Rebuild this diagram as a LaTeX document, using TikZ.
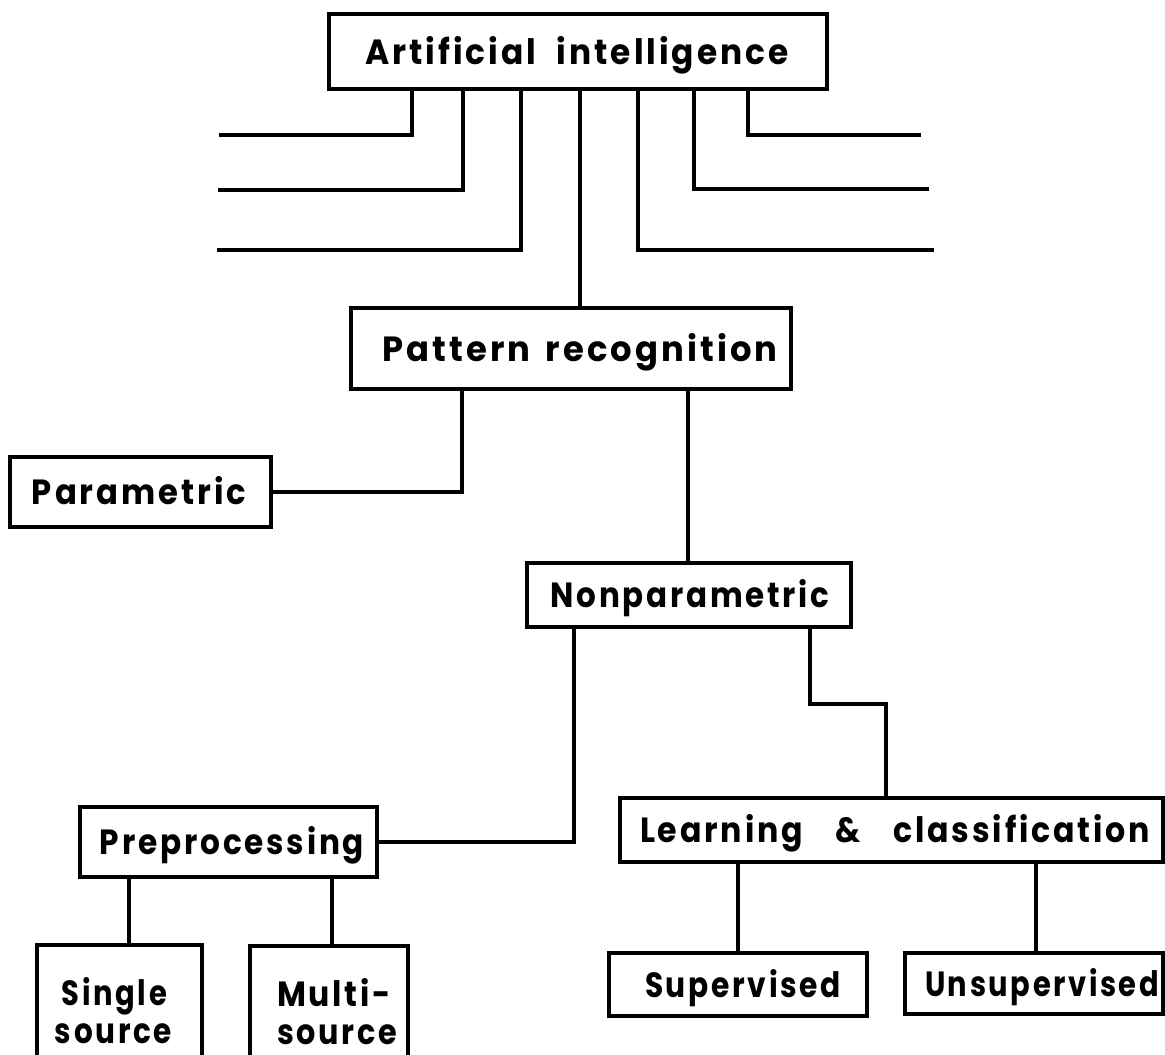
\documentclass[tikz,border=0pt]{standalone}
\usepackage{graphicx}
\usepackage{fontspec}
\setmainfont{Poppins}
\newcommand{\fitw}[2]{\resizebox{#1}{\height}{#2}}
\newcommand{\wsp}{\hspace{16pt}}
\newcommand{\wwsp}{\hspace{36pt}}
\begin{document}
\begin{tikzpicture}[x=1pt,y=-1pt,
  box/.style={draw,line width=3.6pt,inner sep=0pt,align=center,
    font=\fontsize{35}{38}\selectfont\bfseries\addfontfeature{LetterSpace=9}},
  one/.style={text height=25pt,text depth=0pt},
  link/.style={line width=3.2pt}]
\useasboundingbox (0,0) rectangle (1165,1055);
\fill[white] (0,0) rectangle (1165,1055);

\node[box,one,minimum width=498pt,minimum height=75pt] (ai) at (578,51.5)
  {\hspace*{-2pt}\fitw{423pt}{Artificial\hspace{22pt}intelligence}};
\node[box,one,minimum width=440pt,minimum height=81pt] (pr) at (571,348.5)
  {\hspace*{18pt}\fitw{395pt}{Pattern\wsp recognition}};
\node[box,one,minimum width=261pt,minimum height=70pt] (par) at (140.5,492)
  {\hspace*{-3pt}\fitw{214pt}{Parametric}};
\node[box,one,minimum width=324pt,minimum height=64pt] (np) at (689,595)
  {\hspace*{2pt}\fitw{279pt}{Nonparametric}};
\node[box,one,minimum width=297pt,minimum height=70pt] (pre) at (228.5,842)
  {\hspace*{7pt}\fitw{264pt}{Preprocessing}};
\node[box,one,minimum width=543pt,minimum height=64pt] (lc) at (891.5,830)
  {\hspace*{7pt}\fitw{510pt}{Learning\wwsp\&\wwsp classification}};
\node[box,minimum width=165pt,minimum height=132pt] (ss) at (119.5,1011)
  {\hspace*{-10pt}\fitw{105pt}{Single}\\\hspace*{-12pt}\fitw{117pt}{source}};
\node[box,minimum width=158pt,minimum height=132pt] (ms) at (329,1012)
  {\hspace*{10pt}\fitw{114pt}{Multi-}\\\hspace*{16pt}\fitw{120pt}{source}};
\node[box,one,minimum width=258pt,minimum height=63pt] (sup) at (738,984.5)
  {\hspace*{10pt}\fitw{196pt}{Supervised}};
\node[box,one,minimum width=258pt,minimum height=61pt] (uns) at (1034,983.5)
  {\hspace*{16pt}\fitw{234pt}{Unsupervised}};

\coordinate (l1) at (219,135);
\coordinate (l2) at (218,190);
\coordinate (l3) at (217,250);
\coordinate (r1) at (921,135);
\coordinate (r2) at (929,189);
\coordinate (r3) at (934,250);

\draw[link] (ai.south -| 412,0) |- (l1);
\draw[link] (ai.south -| 463,0) |- (l2);
\draw[link] (ai.south -| 521,0) |- (l3);
\draw[link] (ai.south -| 638,0) |- (r3);
\draw[link] (ai.south -| 694,0) |- (r2);
\draw[link] (ai.south -| 748,0) |- (r1);
\draw[link] (ai.south -| 580,0) -- (pr.north -| 580,0);

\draw[link] (pr.south -| 462,0) |- (par.east);
\draw[link] (pr.south -| 688,0) -- (np.north -| 688,0);

\draw[link] (np.south -| 574,0) |- (pre.east);
\draw[link] (np.south -| 810,0) -- (810,704) -| (lc.north -| 886,0);

\draw[link] (pre.south -| 129,0) -- (ss.north -| 129,0);
\draw[link] (pre.south -| 332,0) -- (ms.north -| 332,0);
\draw[link] (lc.south -| 738,0) -- (sup.north -| 738,0);
\draw[link] (lc.south -| 1036,0) -- (uns.north -| 1036,0);
\end{tikzpicture}
\end{document}
